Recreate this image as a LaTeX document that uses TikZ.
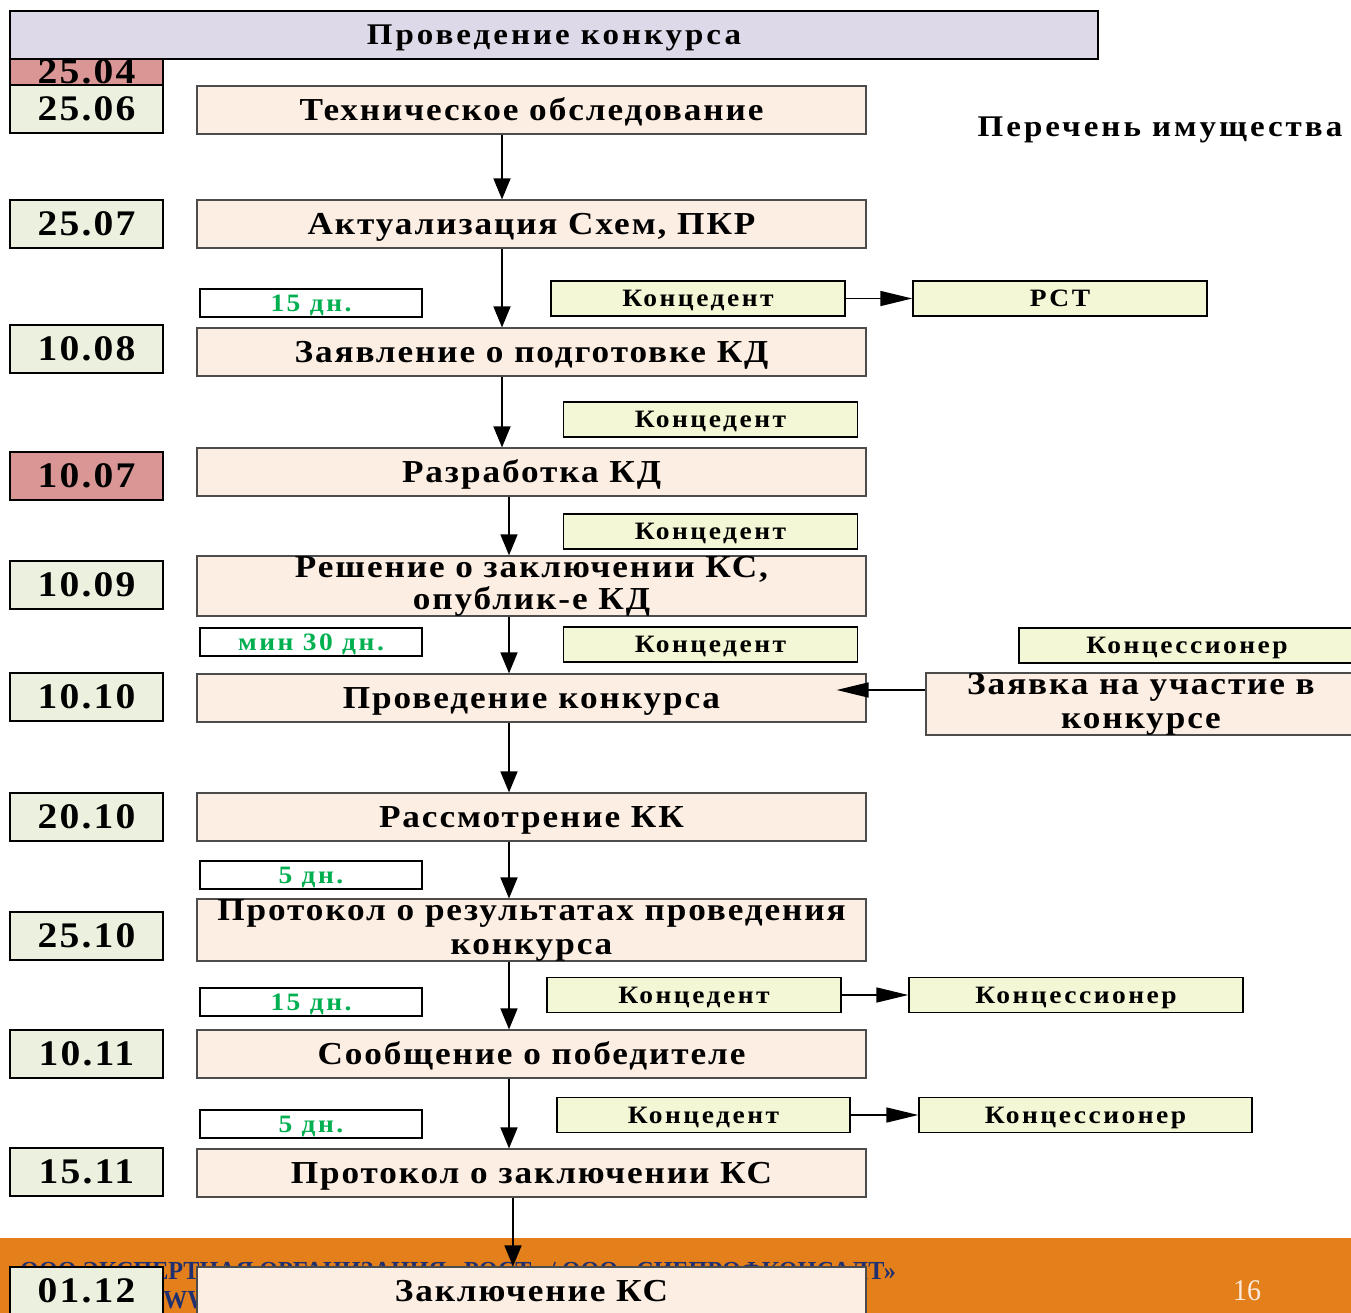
\documentclass[tikz,border=0pt]{standalone}
\usepackage{fontspec}
\setmainfont{Liberation Serif}
\newfontfamily\df[FakeStretch=1.1,LetterSpace=6]{Liberation Serif}
\newfontfamily\dfs[FakeStretch=1.1,LetterSpace=10]{Liberation Serif}
\newfontfamily\ff[FakeStretch=0.93]{Liberation Serif}
\usetikzlibrary{arrows.meta}
\definecolor{hdr}{HTML}{DDD9E9}
\definecolor{dgreen}{HTML}{EBF1DE}
\definecolor{dred}{HTML}{D99694}
\definecolor{peach}{HTML}{FDEEE3}
\definecolor{ygreen}{HTML}{F3F7D5}
\definecolor{band}{HTML}{E3801B}
\definecolor{txtgreen}{HTML}{00B050}
\definecolor{navy}{HTML}{1F2F6F}
\definecolor{pagenum}{HTML}{FCEBDC}
\begin{document}
\begin{tikzpicture}[x=1pt,y=-1pt,
  datebox/.style={draw=black, line width=1.8pt, fill=dgreen, minimum width=153, minimum height=48, inner sep=0,
    font=\df\bfseries\fontsize{36}{36}\selectfont},
  mainbase/.style={draw=black!70, line width=1.2pt, fill=peach, minimum width=669, minimum height=48, inner sep=0,
    align=center, font=\df\bfseries\fontsize{32}{32}\selectfont},
  mainbox/.style={mainbase, text height=21pt, text depth=0pt},
  durbox/.style={draw=black, line width=1.5pt, fill=white, minimum width=222, minimum height=28, inner sep=0,
    text=txtgreen, font=\dfs\bfseries\fontsize{25}{25}\selectfont, text height=16.5pt, text depth=0pt},
  ctbox/.style={draw=black, line width=1.5pt, fill=ygreen, minimum width=294, minimum height=35, inner sep=0,
    font=\dfs\bfseries\fontsize{25}{25}\selectfont, text height=16.5pt, text depth=0pt},
  arr/.style={line width=1.6pt, -{Triangle[length=21pt,width=17pt]}},
  harr/.style={line width=1.6pt, -{Triangle[length=32pt,width=15pt]}}
]
\clip (0,0) rectangle (1351,1313);
\fill[white] (0,0) rectangle (1351,1313);
\fill[band] (0,1238) rectangle (1351,1313);
\node[anchor=west, inner sep=0, text=navy, font=\ff\bfseries\fontsize{26}{26}\selectfont] (ft1) at (20,1274)
  {ООО ЭКСПЕРТНАЯ ОРГАНИЗАЦИЯ «РОСТ» / ООО «СИБПРОФКОНСАЛТ»};
\node[anchor=west, inner sep=0, text=navy, font=\ff\bfseries\fontsize{26}{26}\selectfont] (ft2) at (163,1300) {WWW};
\node[text=pagenum, font=\ff\fontsize{30}{30}\selectfont] (pg) at (1247,1291) {16};

% date boxes
\node[datebox, fill=dred, minimum height=26] (d2504) at (86.5,72) {\raisebox{-4pt}{25.04}};
\node[draw=black, line width=1.8pt, fill=hdr, minimum width=1088, minimum height=48, inner sep=0,
  text height=19.8pt, text depth=0pt,
  font=\dfs\bfseries\fontsize{30}{30}\selectfont] (hdr) at (554,35) {Проведение конкурса};
\node[datebox] (d2506) at (86.5,109) {25.06};
\node[datebox] (d2507) at (86.5,224) {25.07};
\node[datebox] (d1008) at (86.5,349) {10.08};
\node[datebox, fill=dred] (d1007) at (86.5,476) {10.07};
\node[datebox] (d1009) at (86.5,585) {10.09};
\node[datebox] (d1010) at (86.5,697) {10.10};
\node[datebox] (d2010) at (86.5,817) {20.10};
\node[datebox] (d2510) at (86.5,936) {25.10};
\node[datebox] (d1011) at (86.5,1054) {10.11};
\node[datebox] (d1511) at (86.5,1172) {15.11};
\node[datebox] (d0112) at (86.5,1291) {01.12};

% main boxes
\node[mainbox] (tech) at (531.5,110) {Техническое обследование};
\node[mainbox] (akt) at (531.5,224) {Актуализация Схем, ПКР};
\node[mainbox] (zayav) at (531.5,352) {Заявление о подготовке КД};
\node[mainbox] (razr) at (531.5,472) {Разработка КД};
\node[mainbase, minimum height=60] (resh) at (531.5,586) {Решение о заключении КС,\\опублик-е КД};
\node[mainbox] (prov) at (531.5,698) {Проведение конкурса};
\node[mainbox] (rassm) at (531.5,817) {Рассмотрение КК};
\node[mainbase, minimum height=60, font=\df\bfseries\fontsize{32}{34}\selectfont] (protres) at (531.5,930) {Протокол о результатах проведения\\конкурса};
\node[mainbox] (soob) at (531.5,1054) {Сообщение о победителе};
\node[mainbox] (protks) at (531.5,1173) {Протокол о заключении КС};
\node[mainbox] (zakl) at (531.5,1291) {Заключение КС};

% durations
\node[durbox] (t1) at (311,303) {15 дн.};
\node[durbox] (t2) at (311,642) {мин 30 дн.};
\node[durbox] (t3) at (311,875) {5 дн.};
\node[durbox] (t4) at (311,1002) {15 дн.};
\node[durbox] (t5) at (311,1124) {5 дн.};

% side boxes
\node[ctbox] (k1) at (698,298.5) {Концедент};
\node[ctbox] (rst) at (1060,298.5) {РСТ};
\node[ctbox] (k2) at (710.5,419.5) {Концедент};
\node[ctbox] (k3) at (710.5,531.5) {Концедент};
\node[ctbox] (k4) at (710.5,644.5) {Концедент};
\node[ctbox, minimum width=336] (kc4) at (1187,645.5) {Концессионер};
\node[mainbase, minimum width=430, minimum height=60, font=\df\bfseries\fontsize{32}{34}\selectfont] (zayavka) at (1141,704) {Заявка на участие в\\конкурсе};
\node[ctbox] (k5) at (694,995) {Концедент};
\node[ctbox, minimum width=334] (kc5) at (1076,995) {Концессионер};
\node[ctbox, minimum width=293] (k6) at (703.5,1115) {Концедент};
\node[ctbox, minimum width=333] (kc6) at (1085.5,1115) {Концессионер};

\node[inner sep=0, text height=19.8pt, text depth=0pt, font=\dfs\bfseries\fontsize{30}{30}\selectfont] (perech) at (1160,127) {Перечень имущества};

% arrows
\draw[arr] ([xshift=-29.5]tech.south) -- ([xshift=-29.5]akt.north);
\draw[arr] ([xshift=-29.5]akt.south) -- ([xshift=-29.5]zayav.north);
\draw[arr] ([xshift=-29.5]zayav.south) -- ([xshift=-29.5]razr.north);
\draw[arr] ([xshift=-22.5]razr.south) -- ([xshift=-22.5]resh.north);
\draw[arr] ([xshift=-22.5]resh.south) -- ([xshift=-22.5]prov.north);
\draw[arr] ([xshift=-22.5]prov.south) -- ([xshift=-22.5]rassm.north);
\draw[arr] ([xshift=-22.5]rassm.south) -- ([xshift=-22.5]protres.north);
\draw[arr] ([xshift=-22.5]protres.south) -- ([xshift=-22.5]soob.north);
\draw[arr] ([xshift=-22.5]soob.south) -- ([xshift=-22.5]protks.north);
\draw[arr] ([xshift=-18.5]protks.south) -- ([xshift=-18.5]zakl.north);
\draw[harr] (k1.east) -- (rst.west);
\draw[harr] (k5.east) -- (kc5.west);
\draw[harr] (k6.east) -- (kc6.west);
\draw[harr, shorten >=-30pt] ([yshift=14pt]zayavka.west) -- ([yshift=8pt]prov.east);
\end{tikzpicture}
\end{document}
